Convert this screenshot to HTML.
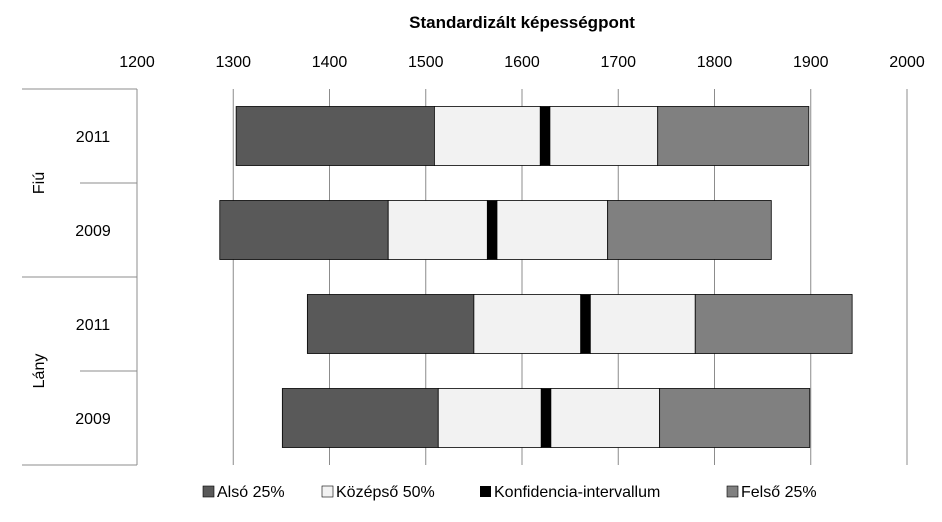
<!DOCTYPE html>
<html><head><meta charset="utf-8"><style>
body{margin:0;background:#fff;}
svg text{font-family:"Liberation Sans",sans-serif;}
</style></head><body>
<svg id="chart" width="942" height="517" viewBox="0 0 942 517" xmlns="http://www.w3.org/2000/svg">
<text x="522" y="28" text-anchor="middle" font-size="17" font-weight="bold" fill="#000">Standardizált képességpont</text>
<g id="grid"></g><g id="ticks"></g><g id="bars"></g><g id="cats"></g>
<g font-size="16">
<g><rect x="203" y="486" width="11" height="11" fill="#595959" stroke="#000" stroke-width="0.6"/><text x="217" y="497">Alsó 25%</text></g>
<g><rect x="322" y="486" width="11" height="11" fill="#f2f2f2" stroke="#000" stroke-width="0.6"/><text x="336" y="497">Középső 50%</text></g>
<g><rect x="480" y="486" width="11" height="11" fill="#000"/><text x="494" y="497">Konfidencia-intervallum</text></g>
<g><rect x="727" y="486" width="11" height="11" fill="#808080" stroke="#000" stroke-width="0.6"/><text x="741" y="497">Felső 25%</text></g>
</g>
</svg>
<script>
const categories=["2011","2009","2011","2009"];
const groups=["Fiú","Lány"];
const minVals=[1303,1286,1377,1351];
const q1Vals=[1509,1461,1550,1513];
const ciLow=[1619,1564,1661,1620];
const ciHigh=[1629,1574,1671,1630];
const q3Vals=[1741,1689,1780,1743];
const maxVals=[1898,1859,1943,1899];
const tickLabels=[1200,1300,1400,1500,1600,1700,1800,1900,2000];
const NS="http://www.w3.org/2000/svg";
const X0=137,X1=907,VMIN=1200,VMAX=2000,TOP=89,BOT=465;
const x=v=>X0+(v-VMIN)/(VMAX-VMIN)*(X1-X0);
const band=(BOT-TOP)/categories.length;
function mk(tag,attrs,parent){const e=document.createElementNS(NS,tag);for(const k in attrs)e.setAttribute(k,attrs[k]);document.getElementById(parent).appendChild(e);return e;}
tickLabels.forEach(t=>{
 const l=mk('line',{x1:x(t),x2:x(t),y1:TOP,y2:BOT,stroke:'#8c8c8c','stroke-width':1},'grid');
 
 
 const tx=mk('text',{x:x(t),y:67,'text-anchor':'middle','font-size':16,fill:'#000'},'ticks');
 tx.textContent=t;
 
 
});
[[TOP,22],[TOP+band,80],[TOP+2*band,22],[TOP+3*band,80],[BOT,22]].forEach(([y,s])=>{
 const l=mk('line',{x1:s,x2:X0,y1:y,y2:y,stroke:'#8c8c8c','stroke-width':1},'grid');
 
 
});
categories.forEach((c,i)=>{
 const cy=TOP+band*(i+0.5),h=59,y=cy-h/2;
 const segs=[[minVals[i],q1Vals[i],'#595959','lower-25'],[q1Vals[i],ciLow[i],'#f2f2f2','middle-50-low'],[ciLow[i],ciHigh[i],'#000','confidence-interval'],[ciHigh[i],q3Vals[i],'#f2f2f2','middle-50-high'],[q3Vals[i],maxVals[i],'#808080','upper-25']];
 segs.forEach(s=>{
  const r=mk('rect',{x:x(s[0]),y:y,width:x(s[1])-x(s[0]),height:h,fill:s[2],stroke:'#000','stroke-width':0.8},'bars');
  
  
 });
 const t=mk('text',{x:93,y:cy+6,'text-anchor':'middle','font-size':16,fill:'#000'},'cats');
 t.textContent=c;
 
 
});
groups.forEach((g,i)=>{
 const cy=TOP+band*(2*i+1);
 const t=mk('text',{x:0,y:0,'text-anchor':'middle','font-size':16,fill:'#000',transform:`translate(44,${cy}) rotate(-90)`},'cats');
 t.textContent=g;
 
 
});
</script>
</body></html>
